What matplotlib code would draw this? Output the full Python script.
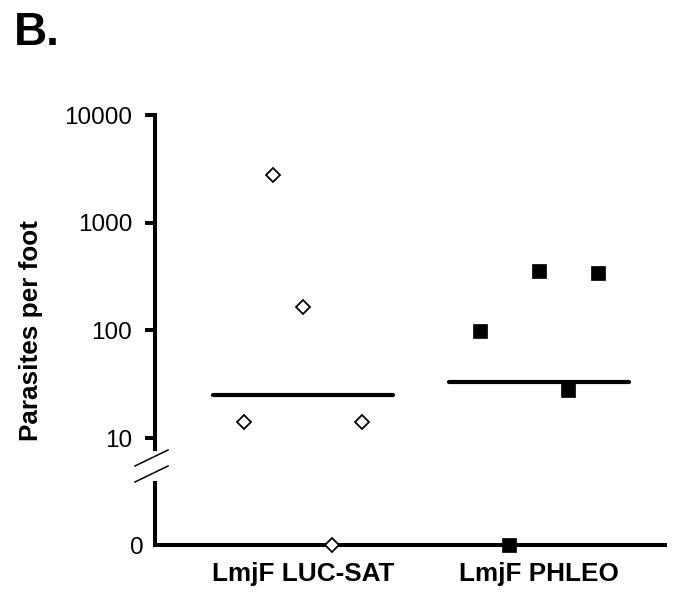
import numpy as np
import matplotlib
matplotlib.use("Agg")
import matplotlib.pyplot as plt
from matplotlib.lines import Line2D

plt.rcParams['font.family'] = ['Liberation Sans', 'DejaVu Sans']

# данные
groups = ['LmjF LUC-SAT', 'LmjF PHLEO']
luc_values = [2800, 165, 14, 14, 0]
phleo_values = [98, 355, 340, 28, 0]
medians = [25, 33]
y_ticks = [10, 100, 1000, 10000]

# разброс точек по горизонтали
luc_jitter = [-0.125, 0, -0.25, 0.25, 0.125]
phleo_jitter = [-0.25, 0, 0.25, 0.125, -0.125]

W, H = 680, 593
fig = plt.figure(figsize=(6.8, 5.93), dpi=100)

left = 155 / W
width = 510 / W
ax = fig.add_axes([left, 1 - 449 / H, width, (449 - 115) / H])
ax0 = fig.add_axes([left, 1 - 545 / H, width, (545 - 483) / H])

xlim = (0.373, 2.534)
lw = 2.9

# верхняя часть (логарифмическая)
ax.set_yscale('log')
ax.set_ylim(10 ** (1 - 11 / 107.8), 10000)
ax.set_xlim(*xlim)
for s in ['top', 'right', 'bottom']:
    ax.spines[s].set_visible(False)
ax.spines['left'].set_linewidth(lw)
ax.set_xticks([])
ax.set_yticks(y_ticks)
ax.set_yticklabels([str(t) for t in y_ticks])
ax.yaxis.set_minor_locator(matplotlib.ticker.NullLocator())
ax.tick_params(axis='y', length=7, width=lw, pad=9.5, labelsize=17.5)

# нижняя часть (ноль)
ax0.set_ylim(0, 1)
ax0.set_xlim(*xlim)
for s in ['top', 'right']:
    ax0.spines[s].set_visible(False)
ax0.spines['left'].set_linewidth(lw)
ax0.spines['bottom'].set_linewidth(lw)
ax0.set_yticks([0])
ax0.set_yticklabels(['0'])
ax0.tick_params(axis='y', length=0, pad=8, labelsize=17.5)
ax0.set_xticks([1, 2])
ax0.set_xticklabels(groups, fontweight='bold')
ax0.tick_params(axis='x', length=0, pad=12, labelsize=18.8)

def draw_group(xc, values, jitter, marker, face, ms, mew):
    for v, j in zip(values, jitter):
        target = ax if v > 0 else ax0
        target.plot(xc + j, v, marker=marker, ms=ms, mfc=face, mec='black',
                    mew=mew, linestyle='none', clip_on=False, zorder=5)

draw_group(1, luc_values, luc_jitter, 'D', 'white', 7.6, 1.3)
draw_group(2, phleo_values, phleo_jitter, 's', 'black', 9.5, 0.5)

for i, m in enumerate(medians):
    xc = i + 1
    ax.plot([xc - 0.38, xc + 0.38], [m, m], color='black', lw=3,
            solid_capstyle='round', zorder=4)

# значки разрыва оси
for y0 in [466, 482]:
    fig.add_artist(Line2D([135 / W, 168 / W], [1 - y0 / H, 1 - (y0 - 16) / H],
                          color='black', lw=1.1, transform=fig.transFigure))

fig.text(31 / W, 1 - 331 / H, 'Parasites per foot', rotation=90,
         fontsize=18.8, fontweight='bold', ha='center', va='center')
fig.text(14 / W, 1 - 45 / H, 'B.', fontsize=33, fontweight='bold',
         ha='left', va='baseline')

fig.savefig('out.png', dpi=100)
